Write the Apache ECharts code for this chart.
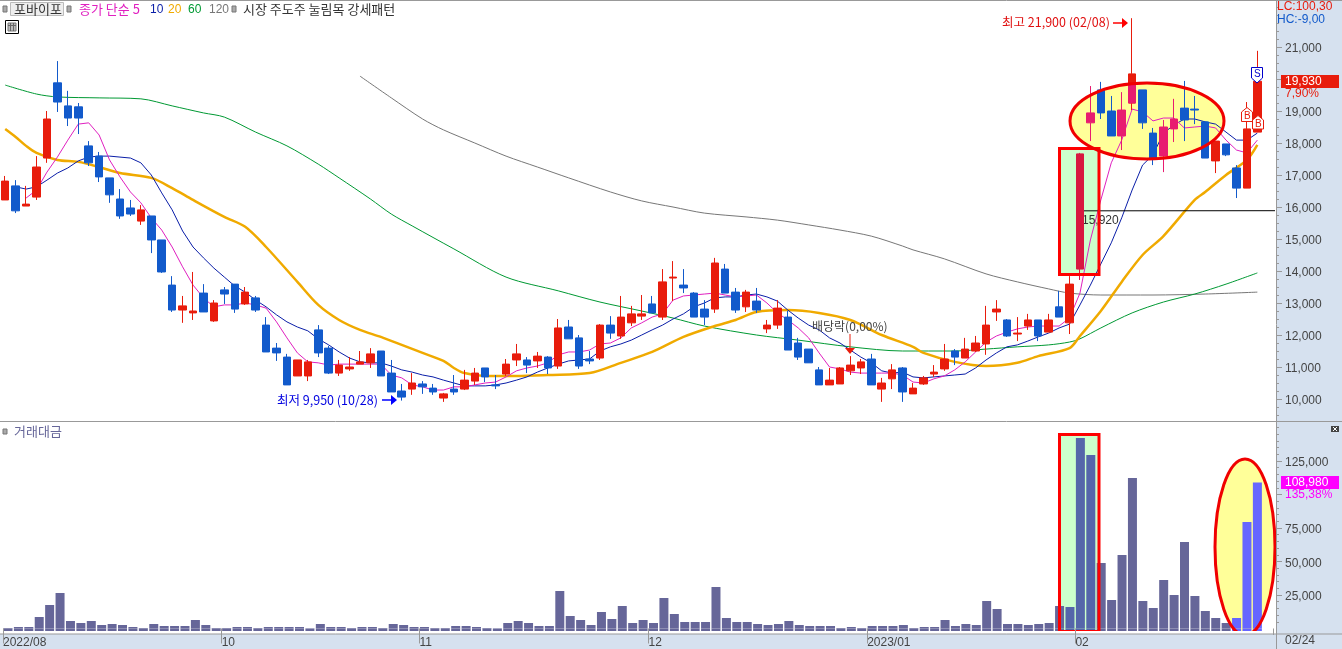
<!DOCTYPE html>
<html><head><meta charset="utf-8">
<style>html,body{margin:0;padding:0;background:#fff}#c{width:1342px;height:649px}</style>
<script src="https://cdn.jsdelivr.net/npm/echarts@6/dist/echarts.min.js"></script>
</head><body><div id="c"></div>
<script>
var monthLabels = {0:'2022/08',21:'10',40:'11',62:'12',83:'2023/01',103:'02'};
var priceTicks = [10000,11000,12000,13000,14000,15000,16000,17000,18000,19000,20000,21000];
var valueTicks = [25000,50000,75000,100000,125000];
var valueLabels = [25000,50000,75000,125000];
var opens = [16220,16660,16030,16310,17530,19880,19160,19130,17910,17590,16910,16250,15970,15560,15720,14970,13560,12780,12690,13310,12440,13410,13590,12970,13160,12310,11590,11310,10720,10720,12160,11590,10810,10940,11090,11130,11500,10810,10250,10310,10470,10340,10030,10310,10310,10560,10970,10440,10780,11220,11220,11190,11310,11030,12250,11910,11250,11280,12310,11970,12380,12590,12970,12560,13780,13560,13310,12810,12810,14060,13340,12880,13060,12190,12310,12560,11750,11560,10910,10440,10470,10880,10970,11250,10310,10630,10970,10160,10470,10780,10940,11500,11280,11500,11720,12720,12470,12030,12280,12470,12090,12880,12380,14060,18630,19660,19000,18220,19250,19660,18310,17590,18440,19090,19060,18660,17440,17970,17220,16590,18340];
var closes = [16810,15880,16090,17250,18750,19280,18780,18780,17380,16940,16380,15720,15780,15910,14970,13970,12780,12910,12750,12720,13000,13280,12810,13340,12780,11470,11440,10440,11220,11160,11440,10810,11060,11000,11160,11410,10720,10220,10060,10500,10380,10220,10160,10220,10590,10810,10690,10410,11090,11410,11060,11340,10970,12220,11880,11030,11190,12310,12060,12560,12660,12660,12690,13660,13810,13470,12560,12560,14250,13310,12780,13340,12780,12310,12840,11530,11310,11130,10440,10590,10970,11060,11160,10440,10500,10910,10220,10340,10660,10840,11250,11310,11560,11750,12310,12810,11970,12060,12470,11970,12470,12560,13590,17660,18940,18940,18220,19030,20160,18630,17530,18500,18750,18720,19030,17530,18060,17630,16590,18440,19930];
var lows = [16220,15810,16030,16220,17380,18970,18530,18280,17280,16780,16130,15630,15720,15440,14560,13940,12720,12380,12470,12720,12410,12970,12690,12940,12720,11470,11190,10440,10720,10560,11310,10780,10720,10880,11090,10970,10720,10220,9950,10130,10160,10130,9910,10130,10280,10440,10530,10310,10720,11030,10810,10970,10780,10940,11880,10940,11090,11220,11880,11880,12280,12470,12690,12470,13060,13310,12560,12310,12690,13310,12690,12720,12690,12060,12190,11530,11220,11130,10440,10440,10470,10750,10780,10440,9910,10310,9910,10160,10440,10690,10880,11060,11280,11470,11380,12440,11940,11810,12160,11810,12090,12560,12030,13720,18060,18750,18220,17780,19030,18440,17310,17090,18030,18060,18590,17530,17060,17590,16280,16590,18340];
var highs = [16970,16840,16660,17590,19000,20560,19630,19250,18060,17720,16910,16560,16220,16060,15720,14970,13840,13220,13970,13590,13090,13500,13590,13500,13220,12560,11750,11410,11220,11220,12310,11660,11220,11310,11500,11590,11500,11220,10470,10810,10560,10470,10190,10750,10910,10970,10970,10750,11250,11720,11310,11470,11340,12500,12470,12000,11500,12340,12590,13220,12910,13250,13220,14060,14310,14060,13340,13090,14410,14220,13470,13410,13470,12470,13090,12750,11910,11560,11000,10970,11000,11340,11250,11410,10660,11090,11000,10500,10720,11060,11720,11560,11910,11970,12910,13090,12500,12560,12660,12470,12660,13380,13840,17690,19780,19910,19470,19590,21900,19660,18470,18720,19380,19940,19470,18660,18060,17970,17310,19280,20880];
var turnover = [370,1120,1120,8580,17540,26490,5600,4100,5600,2610,3360,2610,1120,370,3360,1870,1870,1870,6340,2610,370,370,1120,1120,370,1120,1120,1120,1120,100,3360,1120,1120,370,1120,1120,370,3360,2610,1120,1120,370,370,1870,1870,1120,370,100,4100,5600,4100,1870,1870,27980,9330,6340,2610,12310,7090,16790,4100,6340,4100,22750,10820,4850,4850,4850,30960,7830,4850,4850,3360,2610,3360,5600,2610,1870,1870,1870,370,1120,370,1870,1870,1870,2610,370,1120,1120,6340,1870,3360,2610,20520,14550,3360,3360,2610,3360,4100,16790,16040,142160,129430,48870,21260,54830,112270,20520,15290,36180,24990,64530,24250,13050,7830,4100,7830,79450,108980];
var ma5 = [[2,16280],[3,16530],[4,17090],[5,17560],[6,18090],[7,18590],[8,18630],[9,18250],[10,17470],[11,16940],[12,16470],[13,16130],[14,15660],[15,15280],[16,14750],[17,14130],[18,13560],[19,13160],[20,12880],[21,12940],[22,12940],[23,13000],[24,12940],[25,12840],[26,12410],[27,11910],[28,11440],[29,11160],[30,11130],[31,11060],[32,11090],[33,11090],[34,11090],[35,11090],[36,11090],[37,10750],[38,10660],[39,10440],[40,10380],[41,10280],[42,10280],[43,10380],[44,10380],[45,10440],[46,10500],[47,10530],[48,10690],[49,10880],[50,10970],[51,11030],[52,11130],[53,11380],[54,11470],[55,11470],[56,11530],[57,11720],[58,11750],[59,11910],[60,12220],[61,12380],[62,12560],[63,12660],[64,13090],[65,13220],[66,13250],[67,13280],[68,13310],[69,13250],[70,13190],[71,13220],[72,13250],[73,13000],[74,12690],[75,12470],[76,12220],[77,11910],[78,11440],[79,11000],[80,10940],[81,10840],[82,10810],[83,10810],[84,10810],[85,10810],[86,10750],[87,10530],[88,10500],[89,10630],[90,10720],[91,10910],[92,11160],[93,11470],[94,11780],[95,11970],[96,12090],[97,12190],[98,12250],[99,12280],[100,12280],[101,12280],[102,12530],[103,13310],[104,14970],[105,16220],[106,17380],[107,18090],[108,19060],[109,18970],[110,18690],[111,18780],[112,18780],[113,18470],[114,18500],[115,18530],[116,18470],[117,18090],[118,17780],[119,17690],[120,18090]];
var ma10 = [[1,16630],[2,16560],[3,16630],[4,16840],[5,17060],[6,17220],[7,17440],[8,17560],[9,17590],[10,17590],[11,17560],[12,17530],[13,17380],[14,17000],[15,16440],[16,15910],[17,15250],[18,14750],[19,14410],[20,14090],[21,13810],[22,13530],[23,13340],[24,13090],[25,12880],[26,12630],[27,12410],[28,12250],[29,12130],[30,11880],[31,11690],[32,11470],[33,11280],[34,11160],[35,11130],[36,11130],[37,11030],[38,10910],[39,10840],[40,10750],[41,10690],[42,10590],[43,10500],[44,10410],[45,10410],[46,10410],[47,10440],[48,10500],[49,10590],[50,10690],[51,10840],[52,10970],[53,11090],[54,11190],[55,11220],[56,11250],[57,11500],[58,11630],[59,11720],[60,11840],[61,12000],[62,12160],[63,12310],[64,12500],[65,12660],[66,12880],[67,13000],[68,13160],[69,13190],[70,13190],[71,13250],[72,13280],[73,13190],[74,13060],[75,12780],[76,12530],[77,12310],[78,12160],[79,11910],[80,11750],[81,11530],[82,11310],[83,11130],[84,10880],[85,10810],[86,10840],[87,10690],[88,10660],[89,10690],[90,10720],[91,10750],[92,10780],[93,10970],[94,11220],[95,11440],[96,11630],[97,11690],[98,11810],[99,11940],[100,12060],[101,12220],[102,12340],[103,12940],[104,13560],[105,14220],[106,14880],[107,15660],[108,16530],[109,17310],[110,17630],[111,18310],[112,18560],[113,18750],[114,18750],[115,18660],[116,18590],[117,18340],[118,18090],[119,18090],[120,18310]];
var ma20 = [[0,18440],[1,18190],[2,17910],[3,17690],[5,17470],[7,17410],[9,17250],[11,17060],[14,16910],[16,16590],[18,16220],[21,15690],[23,15380],[25,14750],[28,13660],[30,12940],[32,12470],[34,12160],[36,11940],[38,11690],[40,11440],[42,11190],[43,10970],[44,10810],[46,10720],[49,10720],[52,10750],[56,10810],[59,11130],[62,11470],[65,11940],[68,12280],[70,12470],[72,12720],[75,12780],[78,12690],[81,12470],[84,12000],[87,11630],[88,11440],[91,11160],[94,11030],[97,11130],[99,11340],[102,11590],[103,11970],[105,12750],[107,13660],[109,14500],[111,15090],[114,16220],[115,16470],[117,17000],[119,17470],[120,17940]];
var ma60 = [[0,19810],[3,19530],[5,19440],[9,19410],[13,19380],[16,19160],[19,18940],[21,18810],[24,18340],[27,17910],[30,17340],[32,16910],[35,16250],[37,15780],[39,15410],[43,14690],[48,13810],[53,13380],[57,13030],[61,12750],[64,12530],[67,12280],[72,12000],[76,11840],[81,11630],[86,11500],[91,11500],[94,11560],[97,11630],[100,11690],[102,11780],[103,11880],[105,12220],[108,12690],[111,13030],[114,13280],[117,13590],[120,13940]];
var ma120 = [[34,20090],[37,19410],[40,18750],[42,18410],[45,18000],[48,17590],[51,17250],[54,16910],[58,16470],[61,16190],[64,16000],[67,15810],[71,15690],[74,15590],[77,15440],[80,15280],[83,15090],[86,14780],[87,14660],[90,14380],[94,13910],[97,13660],[100,13440],[102,13310],[105,13250],[110,13250],[115,13280],[120,13340]];

var RED='#E81C0C', BLUE='#125ACB', PINK='#E81C70', CRIM='#D81840', PANEL='#D6E1EF', GRAY='#999999', KR='"Noto Sans CJK KR","Noto Sans",sans-serif', NUM='"Liberation Sans",Arial,sans-serif';
var pinkIdx=[104,107,111,112], crimIdx=[103], greenBars=[102,103,104], brightBars=[118,119,120];

var cats = opens.map(function(_,i){return monthLabels[i]||'';}); cats.push('');
var candleData = opens.map(function(o,i){
  var c = closes[i]<o?BLUE:pinkIdx.indexOf(i)>=0?PINK:crimIdx.indexOf(i)>=0?CRIM:RED;
  return {value:[o,closes[i],lows[i],highs[i]],itemStyle:{color:c,color0:c,borderColor:c,borderColor0:c}};
});
var tint = opens.map(function(_,i){return i===108?[19250,19840,19250,19840]:['-','-','-','-'];});
function barColor(i){return greenBars.indexOf(i)>=0?'#5566AA':brightBars.indexOf(i)>=0?'#6666FF':'#666699';}
var barData = turnover.map(function(v,i){return {value:v,itemStyle:{color:barColor(i)}};});
var minorP=[],minorV=[],v;
for(v=9500;v<=22250;v+=250)minorP.push(v);
for(v=5000;v<=150000;v+=5000)minorV.push(v);
var fmt=function(x){return Number(x).toLocaleString('en-US');};

function txt(x,y,s,fill,size,z,fam,extra){var st={text:s,fill:fill,font:(size||11)+'px '+(fam||KR),textVerticalAlign:'middle'};
  if(extra)for(var k in extra)st[k]=extra[k];
  return {type:'text',x:x,y:y,z:z||20,silent:true,style:st};}
function box(x,y,w,h,fill,z,stroke,lw){return {type:'rect',z:z,silent:true,shape:{x:x,y:y,width:w,height:h},style:{fill:fill,stroke:stroke||null,lineWidth:lw||0}};}
function seg(x1,y1,x2,y2,c,z,lw){return {type:'line',z:z,silent:true,shape:{x1:x1,y1:y1,x2:x2,y2:y2},style:{stroke:c,lineWidth:lw||1}};}
function poly(p,fill,stroke,z,lw){return {type:'polygon',z:z,silent:true,shape:{points:p},style:{fill:fill,stroke:stroke||null,lineWidth:lw||0}};}
function oval(cx,cy,rx,ry,fill,stroke,z,lw){return {type:'ellipse',z:z,silent:true,shape:{cx:cx,cy:cy,rx:rx,ry:ry},style:{fill:fill,stroke:stroke,lineWidth:lw||0}};}

var g=[
 box(1277,0,65,649,PANEL,-1),
 box(1059,148,41,127,'#CCFFCC',1),
 box(1059,434,41,197,'#CCFFCC',1),
 oval(1147,121,77,38,'#FFFF99',null,1),
 oval(1245,547,30,88,'#FFFF99',null,1),
 box(1059.5,148.5,39.5,126,'rgba(0,0,0,0)',8,'#FF0000',3),
 box(1059.5,434.5,39.5,197,'rgba(0,0,0,0)',8,'#FF0000',3),
 oval(1147,121,77,38,'rgba(0,0,0,0)','#F00000',8,3),
 oval(1245,547,30,88,'rgba(0,0,0,0)','#F00000',8,3),
 box(0,631,1277,3,'#FFFFFF',8.5),
 box(0,634,1277,15,PANEL,8.6),
 box(1268,635,8,14,PANEL,13),
 seg(0,0.5,1342,0.5,GRAY,18),
 seg(0,421.5,1342,421.5,GRAY,18),
 seg(0,634,1342,634,GRAY,18),
 seg(1276.5,0,1276.5,649,GRAY,18),
 box(3,6,4,6,'#AAAAAA',20,'#777777',1),
 box(10.5,2.5,53,13,'#EEEEEE',20,'#BBBBBB',1),
 txt(14,9.5,'포바이포','#333333',13),
 box(67,6,4,6,'#AAAAAA',20,'#777777',1),
 txt(79,9.5,'종가 단순 5','#E020C0',13),
 txt(150,9.5,'10','#0A1EA8',12,20,NUM),
 txt(168,9.5,'20','#F0AA00',12,20,NUM),
 txt(188,9.5,'60','#009933',12,20,NUM),
 txt(209,9.5,'120','#777777',12,20,NUM),
 box(232,6,4,6,'#AAAAAA',20,'#777777',1),
 txt(243,9.5,'시장 주도주 눌림목 강세패턴','#333333',13),
 box(5.5,20.5,13,13,'#FFFFFF',20,'#000000',1),
 box(8,23,8,8,'#BBBBBB',20,'#777777',1),
 seg(10.5,23,10.5,31,'#666666',21),seg(13.5,23,13.5,31,'#666666',21),seg(8,25.5,16,25.5,'#666666',21),
 box(3,429,4,5,'#AAAAAA',20,'#777777',1),
 txt(14,431,'거래대금','#666699',13),
 txt(1277,7,'LC:100,30',RED,12,20,NUM),
 txt(1277,20,'HC:-9,00',BLUE,12,20,NUM),
 box(1281,75,58,13,RED,15),
 txt(1285,81.5,'19,930','#FFFFFF',12,20,NUM),
 txt(1285,94,'7,90%',RED,12,20,NUM),
 box(1281,476,58,13,'#FF00FF',15),
 txt(1285,482.5,'108,980','#FFFFFF',12,20,NUM),
 txt(1285,495,'135,38%','#FF00FF',12,20,NUM),
 txt(1285,641,'02/24','#444444',12,20,NUM),
 box(1331,426,8,6,'#444444',20),
 seg(1333,427,1337,431,'#FFFFFF',21),seg(1337,427,1333,431,'#FFFFFF',21),
 txt(1002,22,'최고 21,900 (02/08)','#E01010',12.5),
 seg(1113,23,1123,23,'#FF0000',20,1.5),
 poly([[1122,18],[1128,23],[1122,28]],'#FF0000',null,20),
 txt(277,400,'최저 9,950 (10/28)','#0000E0',12.5),
 seg(382,400,392,400,'#0000FF',20,1.5),
 poly([[391,395],[397,400],[391,405]],'#0000FF',null,20),
 txt(812,326,'배당락(0,00%)','#444444',12),
 seg(850,334,850,349,'#E81C0C',20,1),
 poly([[845,348],[855,348],[850,354]],'#E81C0C',null,20),
 txt(1082,221,'15,920','#333333',12,4,NUM),
 poly([[1251.5,67.5],[1262.5,67.5],[1262.5,78],[1257,83],[1251.5,78]],'#FFFFFF','#0000CC',20,1),
 txt(1254,74.5,'S','#0000CC',10,21,NUM),
 poly([[1247,107.5],[1252.5,112],[1252.5,121.5],[1241.5,121.5],[1241.5,112]],'#FFFFFF','#E81C0C',20,1),
 txt(1244,116.5,'B','#E81C0C',10,21,NUM),
 poly([[1258,115.5],[1263.5,120],[1263.5,129],[1252.5,129],[1252.5,120]],'#FFFFFF','#E81C0C',20,1),
 txt(1255,124,'B','#E81C0C',10,21,NUM)
];
function line(name,data,color,w,sm){return {name:name,type:'line',xAxisIndex:0,yAxisIndex:0,data:data,symbol:'none',smooth:sm||false,connectNulls:true,z:3,silent:true,lineStyle:{color:color,width:w}};}
var chart=echarts.init(document.getElementById('c'),null,{renderer:'canvas'});
var pMin=9312.5,pMax=22406.25,vMin=-1866,vMax=153358;
function yax(grid,min,max,ticks,len,labels){return {type:'value',gridIndex:grid,position:'right',offset:3,min:min,max:max,scale:false,z:12,
  splitLine:{show:false},axisLine:{show:false},
  axisTick:{show:true,length:len,customValues:ticks,lineStyle:{color:GRAY,width:1}},
  axisLabel:labels?{show:true,customValues:labels,margin:9,color:'#444444',fontFamily:NUM,fontSize:12,verticalAlign:'top',lineHeight:4,formatter:fmt}:{show:false}};}
chart.setOption({
 animation:false,backgroundColor:'#FFFFFF',
 graphic:{elements:g},
 grid:[{left:0,top:2,width:1273,height:419,show:false},{left:0,top:423,width:1273,height:208,show:false}],
 xAxis:[
  {type:'category',gridIndex:0,data:cats,show:false,boundaryGap:true},
  {type:'category',gridIndex:1,data:cats,boundaryGap:true,offset:3,z:12,position:'bottom',
   axisLine:{show:false},
   axisTick:{show:true,length:15,interval:function(i){return !!monthLabels[i];},lineStyle:{color:GRAY}},
   axisLabel:{show:true,interval:function(i){return !!monthLabels[i];},align:'left',margin:3,color:'#444444',fontFamily:NUM,fontSize:12,padding:[0,0,0,-5],hideOverlap:false},
   splitLine:{show:false}}
 ],
 yAxis:[
  yax(0,pMin,pMax,priceTicks,6,priceTicks),
  yax(0,pMin,pMax,minorP,3,null),
  yax(1,vMin,vMax,valueTicks,6,valueLabels),
  yax(1,vMin,vMax,minorV,3,null)
 ],
 series:[
  line('MA120',ma120,'#777777',1,0.3),
  line('MA60',ma60,'#009933',1,0.3),
  line('MA20',ma20,'#F0AA00',2.5,0.3),
  line('MA10',ma10,'#0A1EA8',1),
  line('MA5',ma5,'#E020C0',1),
  {name:'포바이포',type:'candlestick',xAxisIndex:0,yAxisIndex:0,z:5,barWidth:8,data:candleData,silent:true,
   itemStyle:{borderWidth:1},
   markLine:{silent:true,symbol:'none',label:{show:false},lineStyle:{color:'#000000',width:1,type:'solid'},
     data:[[{coord:[103,15880]},{x:1275,y:210.7}]]}},
  {name:'tint',type:'candlestick',xAxisIndex:0,yAxisIndex:0,z:6,barWidth:8,data:tint,silent:true,
   itemStyle:{color:PINK,color0:PINK,borderColor:PINK,borderColor0:PINK,borderWidth:1}},
  {name:'거래대금',type:'bar',xAxisIndex:1,yAxisIndex:2,z:5,barWidth:9,stack:'t',data:barData,silent:true},
  {name:'기준',type:'bar',xAxisIndex:1,yAxisIndex:2,z:5,barWidth:9,stack:'t',silent:true,
   data:turnover.map(function(_,i){return {value:vMin,itemStyle:{color:barColor(i)}};})}
 ]
});
</script></body></html>
